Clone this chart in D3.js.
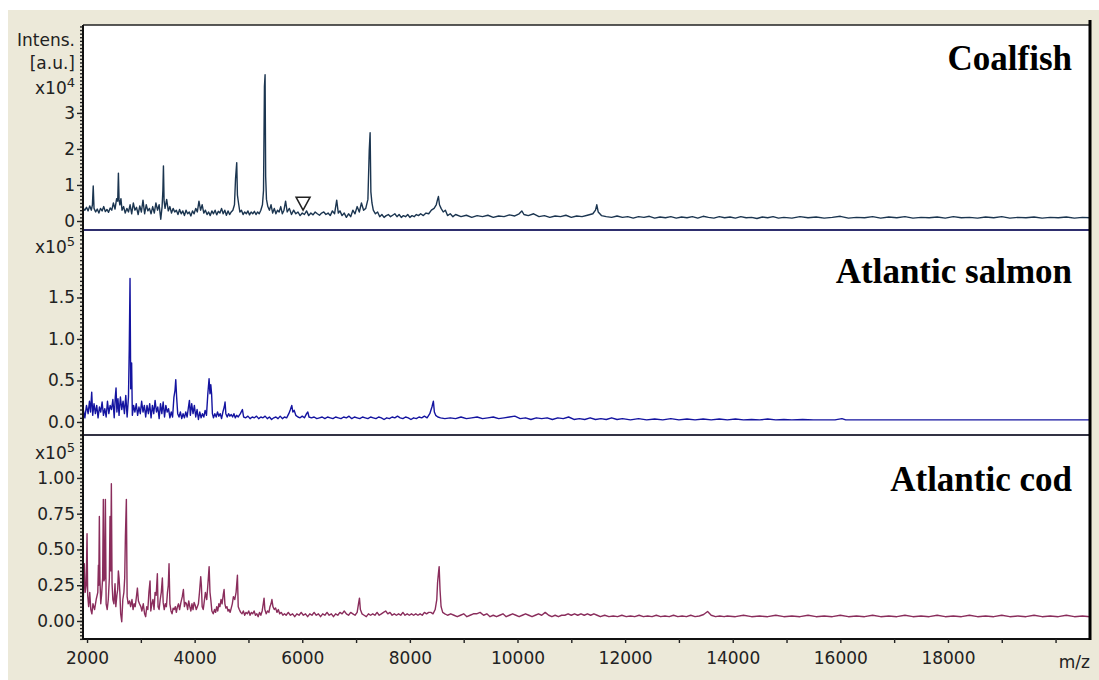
<!DOCTYPE html>
<html>
<head>
<meta charset="utf-8">
<script src="https://cdn.jsdelivr.net/npm/d3@7"></script>
<style>
  body { margin: 0; background: #fff; }
  svg { display: block; font-family: "DejaVu Sans", sans-serif; }
  .axis .tick text { font-size: 17px; fill: #222; font-family: "DejaVu Sans", sans-serif; }
  .axis .tick line { stroke: #222; stroke-width: 1.4; }
  .axis path.domain { display: none; }
  .side-label { font-size: 17px; fill: #222; }
  .species { font-family: "Liberation Serif", "Times New Roman", serif; font-weight: bold; font-size: 35px; fill: #000; }
</style>
</head>
<body>
<svg id="chart"></svg>
<script>
// m/z, intensity (x10^4)
const coalfish = [[1930,0.35],[1960,0.3],[1990,0.38],[2020,0.28],[2050,0.42],[2080,0.3],[2100,0.45],[2115,0.97],[2130,0.35],[2160,0.25],[2190,0.33],[2220,0.22],[2250,0.35],[2280,0.28],[2310,0.4],[2340,0.26],[2370,0.32],[2400,0.24],[2430,0.36],[2460,0.3],[2490,0.5],[2520,0.33],[2550,0.62],[2570,0.55],[2583,1.33],[2595,0.6],[2610,0.45],[2630,0.62],[2650,0.3],[2680,0.4],[2710,0.22],[2740,0.35],[2770,0.25],[2800,0.45],[2830,0.2],[2860,0.5],[2890,0.3],[2920,0.38],[2950,0.18],[2980,0.42],[3010,0.25],[3040,0.58],[3070,0.2],[3100,0.45],[3130,0.28],[3160,0.35],[3190,0.2],[3220,0.4],[3250,0.22],[3280,0.5],[3310,0.3],[3340,0.45],[3370,0.05],[3395,0.4],[3410,0.86],[3420,1.53],[3432,0.55],[3450,0.35],[3480,0.6],[3510,0.28],[3540,0.4],[3570,0.22],[3600,0.35],[3630,0.25],[3660,0.3],[3690,0.18],[3720,0.32],[3750,0.2],[3780,0.28],[3810,0.15],[3840,0.3],[3870,0.2],[3900,0.25],[3930,0.14],[3960,0.28],[3990,0.2],[4020,0.35],[4050,0.25],[4080,0.55],[4110,0.3],[4140,0.45],[4170,0.22],[4200,0.3],[4230,0.18],[4260,0.25],[4290,0.15],[4320,0.28],[4350,0.2],[4380,0.3],[4410,0.17],[4440,0.27],[4470,0.22],[4500,0.35],[4530,0.2],[4560,0.3],[4590,0.16],[4620,0.28],[4650,0.18],[4680,0.25],[4710,0.3],[4740,0.45],[4760,1.18],[4782,1.62],[4795,0.72],[4815,0.5],[4840,0.25],[4870,0.3],[4900,0.18],[4930,0.25],[4960,0.2],[4990,0.28],[5020,0.17],[5050,0.25],[5080,0.2],[5110,0.27],[5140,0.18],[5170,0.25],[5200,0.2],[5230,0.3],[5260,0.45],[5280,0.85],[5297,3.73],[5309,4.06],[5320,1.23],[5335,0.6],[5360,0.4],[5390,0.3],[5420,0.45],[5450,0.22],[5480,0.35],[5510,0.2],[5540,0.3],[5570,0.25],[5600,0.4],[5630,0.2],[5660,0.3],[5690,0.55],[5720,0.25],[5760,0.35],[5800,0.18],[5840,0.3],[5880,0.2],[5920,0.25],[5960,0.15],[6000,0.22],[6040,0.18],[6080,0.28],[6120,0.15],[6160,0.22],[6200,0.17],[6240,0.25],[6280,0.2],[6320,0.16],[6360,0.22],[6400,0.25],[6440,0.18],[6480,0.22],[6520,0.15],[6560,0.28],[6600,0.2],[6640,0.58],[6670,0.22],[6700,0.28],[6740,0.15],[6780,0.22],[6820,0.1],[6860,0.2],[6900,0.12],[6940,0.3],[6980,0.2],[7020,0.4],[7060,0.25],[7100,0.5],[7140,0.3],[7180,0.35],[7220,0.6],[7245,1.97],[7261,2.45],[7275,0.81],[7295,0.5],[7320,0.3],[7360,0.2],[7400,0.25],[7440,0.12],[7480,0.18],[7520,0.1],[7560,0.15],[7600,0.18],[7640,0.12],[7680,0.16],[7720,0.2],[7760,0.12],[7800,0.18],[7840,0.1],[7880,0.15],[7920,0.12],[7960,0.18],[8000,0.1],[8040,0.15],[8080,0.12],[8120,0.18],[8160,0.15],[8200,0.2],[8250,0.15],[8300,0.22],[8350,0.2],[8400,0.3],[8450,0.35],[8490,0.45],[8515,0.6],[8531,0.68],[8550,0.45],[8580,0.35],[8620,0.25],[8660,0.3],[8700,0.15],[8750,0.2],[8800,0.12],[8850,0.18],[8950,0.12],[9050,0.16],[9150,0.1],[9250,0.15],[9350,0.12],[9450,0.16],[9550,0.1],[9650,0.14],[9750,0.12],[9850,0.17],[9950,0.14],[10030,0.2],[10080,0.28],[10120,0.18],[10200,0.15],[10300,0.2],[10400,0.12],[10500,0.15],[10600,0.1],[10700,0.14],[10800,0.12],[10900,0.16],[11000,0.1],[11100,0.14],[11200,0.12],[11300,0.16],[11400,0.2],[11450,0.3],[11474,0.45],[11500,0.25],[11560,0.15],[11650,0.12],[11750,0.1],[11850,0.14],[11950,0.1],[12050,0.12],[12150,0.08],[12250,0.12],[12350,0.1],[12450,0.13],[12550,0.08],[12650,0.11],[12750,0.09],[12850,0.12],[12950,0.08],[13050,0.11],[13150,0.09],[13250,0.12],[13350,0.08],[13450,0.13],[13550,0.1],[13650,0.08],[13750,0.12],[13850,0.09],[13950,0.11],[14050,0.08],[14150,0.12],[14250,0.09],[14350,0.1],[14450,0.07],[14550,0.11],[14650,0.09],[14750,0.12],[14850,0.08],[14950,0.1],[15100,0.08],[15250,0.12],[15400,0.09],[15550,0.11],[15700,0.08],[15850,0.1],[16000,0.13],[16150,0.08],[16300,0.1],[16450,0.09],[16600,0.12],[16750,0.08],[16900,0.11],[17050,0.09],[17200,0.12],[17350,0.08],[17500,0.1],[17650,0.09],[17800,0.11],[17950,0.08],[18100,0.12],[18250,0.09],[18400,0.1],[18550,0.08],[18700,0.11],[18850,0.09],[19000,0.12],[19150,0.08],[19300,0.1],[19450,0.09],[19600,0.11],[19750,0.08],[19900,0.1],[20050,0.09],[20200,0.11],[20350,0.08],[20500,0.1],[20640,0.09]];

// m/z, intensity (x10^5)
const salmon = [[1930,0.15],[1960,0.05],[1990,0.2],[2020,0.1],[2045,0.25],[2065,0.12],[2087,0.36],[2105,0.08],[2130,0.22],[2155,0.1],[2180,0.2],[2205,0.05],[2230,0.18],[2255,0.12],[2280,0.24],[2305,0.08],[2330,0.16],[2355,0.06],[2380,0.25],[2405,0.1],[2430,0.2],[2455,0.15],[2480,0.27],[2505,0.05],[2525,0.3],[2539,0.41],[2555,0.12],[2575,0.28],[2595,0.08],[2620,0.3],[2645,0.15],[2670,0.25],[2695,0.1],[2720,0.32],[2745,0.06],[2770,0.3],[2785,0.89],[2799,1.73],[2812,0.4],[2829,0.71],[2842,0.08],[2865,0.2],[2890,0.12],[2915,0.22],[2940,0.08],[2965,0.18],[2990,0.1],[3015,0.25],[3040,0.12],[3065,0.2],[3090,0.06],[3115,0.2],[3140,0.1],[3165,0.22],[3190,0.05],[3215,0.2],[3240,0.1],[3265,0.26],[3290,0.12],[3315,0.18],[3340,0.04],[3365,0.22],[3390,0.1],[3415,0.24],[3440,0.06],[3465,0.2],[3490,0.12],[3515,0.16],[3540,0.05],[3565,0.12],[3590,0.06],[3615,0.3],[3635,0.38],[3649,0.51],[3665,0.3],[3685,0.1],[3710,0.06],[3735,0.12],[3760,0.04],[3785,0.1],[3810,0.05],[3835,0.12],[3860,0.06],[3885,0.18],[3903,0.26],[3920,0.08],[3945,0.22],[3970,0.1],[3995,0.2],[4020,0.06],[4045,0.15],[4070,0.03],[4095,0.12],[4120,0.05],[4145,0.1],[4170,0.06],[4195,0.14],[4220,0.08],[4245,0.34],[4268,0.52],[4285,0.34],[4300,0.45],[4315,0.34],[4330,0.1],[4350,0.05],[4375,0.1],[4400,0.06],[4425,0.12],[4450,0.07],[4475,0.1],[4500,0.04],[4525,0.12],[4550,0.18],[4565,0.24],[4580,0.1],[4605,0.06],[4630,0.1],[4655,0.07],[4680,0.09],[4705,0.06],[4730,0.1],[4755,0.05],[4780,0.08],[4810,0.06],[4850,0.1],[4888,0.15],[4910,0.06],[4950,0.05],[4990,0.07],[5030,0.04],[5070,0.06],[5110,0.05],[5150,0.07],[5190,0.04],[5230,0.06],[5270,0.05],[5310,0.07],[5350,0.04],[5390,0.06],[5430,0.03],[5470,0.05],[5510,0.06],[5550,0.04],[5590,0.07],[5630,0.04],[5670,0.06],[5710,0.05],[5750,0.1],[5780,0.15],[5805,0.2],[5825,0.12],[5850,0.14],[5880,0.08],[5920,0.06],[5960,0.05],[6000,0.07],[6040,0.05],[6080,0.1],[6103,0.12],[6125,0.06],[6170,0.05],[6220,0.06],[6270,0.04],[6320,0.05],[6370,0.06],[6420,0.04],[6470,0.06],[6520,0.05],[6570,0.04],[6620,0.06],[6670,0.05],[6720,0.04],[6770,0.06],[6820,0.05],[6870,0.07],[6920,0.04],[6970,0.06],[7020,0.05],[7070,0.04],[7120,0.06],[7170,0.05],[7220,0.04],[7270,0.06],[7320,0.05],[7370,0.04],[7420,0.06],[7470,0.05],[7520,0.03],[7570,0.05],[7620,0.04],[7670,0.06],[7720,0.05],[7770,0.07],[7820,0.05],[7870,0.04],[7920,0.06],[7970,0.05],[8020,0.03],[8070,0.05],[8120,0.04],[8170,0.06],[8220,0.05],[8270,0.07],[8320,0.05],[8370,0.1],[8410,0.18],[8437,0.25],[8455,0.12],[8480,0.08],[8520,0.06],[8570,0.05],[8650,0.04],[8750,0.05],[8850,0.04],[8950,0.06],[9050,0.04],[9150,0.05],[9250,0.06],[9350,0.04],[9450,0.05],[9550,0.06],[9650,0.04],[9750,0.05],[9850,0.06],[9950,0.07],[10050,0.04],[10150,0.05],[10250,0.03],[10350,0.05],[10450,0.04],[10550,0.05],[10650,0.03],[10750,0.05],[10850,0.04],[10950,0.06],[11050,0.03],[11150,0.04],[11250,0.03],[11350,0.05],[11450,0.03],[11550,0.04],[11650,0.03],[11750,0.05],[11850,0.03],[11950,0.04],[12100,0.025],[12250,0.04],[12400,0.025],[12550,0.035],[12700,0.025],[12850,0.04],[13000,0.025],[13150,0.035],[13300,0.025],[13450,0.035],[13600,0.025],[13750,0.035],[13900,0.025],[14050,0.035],[14200,0.025],[14350,0.03],[14500,0.025],[14650,0.035],[14800,0.025],[14950,0.03],[15100,0.025],[15300,0.03],[15500,0.025],[15700,0.025],[15900,0.025],[16030,0.04],[16100,0.025],[16400,0.025],[16800,0.025],[17200,0.025],[17600,0.025],[18000,0.025],[18500,0.025],[19000,0.025],[19500,0.025],[20000,0.025],[20640,0.025]];

// m/z, intensity (x10^5)
const cod = [[1930,0.15],[1950,0.4],[1965,0.2],[1985,0.25],[2000,0.61],[2012,0.18],[2030,0.1],[2050,0.2],[2070,0.08],[2090,0.05],[2110,0.12],[2140,0.08],[2170,0.15],[2200,0.2],[2211,0.39],[2218,0.25],[2229,0.73],[2240,0.29],[2255,0.12],[2270,0.18],[2290,0.3],[2303,0.85],[2315,0.28],[2330,0.3],[2341,0.85],[2355,0.12],[2375,0.08],[2395,0.15],[2415,0.3],[2427,0.73],[2440,0.35],[2452,0.96],[2465,0.26],[2480,0.15],[2500,0.12],[2520,0.26],[2535,0.1],[2555,0.18],[2570,0.22],[2582,0.35],[2595,0.3],[2610,0.2],[2625,0.05],[2645,-0.005],[2665,0.15],[2685,0.2],[2700,0.3],[2713,0.59],[2731,0.85],[2745,0.17],[2765,0.12],[2790,0.14],[2810,0.1],[2835,0.15],[2855,0.08],[2875,0.12],[2895,0.1],[2915,0.16],[2936,0.23],[2955,0.14],[2975,0.12],[3000,0.1],[3020,0.07],[3045,0.12],[3070,0.05],[3090,0.03],[3110,0.1],[3130,0.08],[3150,0.2],[3171,0.28],[3185,0.07],[3205,0.12],[3225,0.15],[3245,0.08],[3265,0.2],[3285,0.18],[3307,0.33],[3320,0.1],[3340,0.08],[3360,0.15],[3380,0.2],[3400,0.3],[3415,0.13],[3435,0.08],[3455,0.12],[3475,0.1],[3495,0.2],[3510,0.25],[3524,0.4],[3540,0.12],[3560,0.07],[3580,0.05],[3600,0.09],[3620,0.08],[3640,0.1],[3660,0.06],[3680,0.1],[3700,0.12],[3720,0.08],[3745,0.13],[3770,0.17],[3791,0.22],[3810,0.1],[3830,0.13],[3850,0.12],[3870,0.08],[3890,0.14],[3910,0.1],[3930,0.07],[3950,0.12],[3970,0.08],[3990,0.13],[4010,0.11],[4030,0.08],[4050,0.1],[4070,0.12],[4090,0.2],[4113,0.31],[4125,0.25],[4140,0.1],[4160,0.08],[4180,0.14],[4200,0.2],[4225,0.15],[4245,0.25],[4269,0.38],[4285,0.2],[4300,0.15],[4320,0.07],[4345,0.05],[4370,0.08],[4390,0.06],[4410,0.1],[4430,0.07],[4450,0.12],[4470,0.1],[4490,0.15],[4510,0.12],[4530,0.18],[4547,0.22],[4562,0.12],[4580,0.09],[4600,0.1],[4620,0.07],[4640,0.08],[4660,0.06],[4680,0.09],[4700,0.12],[4720,0.17],[4745,0.15],[4770,0.2],[4795,0.32],[4810,0.1],[4830,0.08],[4855,0.06],[4880,0.05],[4905,0.07],[4930,0.04],[4955,0.06],[4980,0.05],[5005,0.07],[5030,0.04],[5055,0.06],[5080,0.05],[5105,0.07],[5130,0.04],[5155,0.05],[5180,0.03],[5205,0.06],[5230,0.04],[5255,0.07],[5275,0.12],[5290,0.16],[5305,0.08],[5330,0.05],[5355,0.07],[5380,0.06],[5400,0.1],[5420,0.12],[5436,0.15],[5455,0.1],[5480,0.08],[5505,0.09],[5530,0.06],[5555,0.08],[5580,0.05],[5610,0.06],[5640,0.04],[5670,0.05],[5700,0.04],[5740,0.06],[5780,0.04],[5820,0.05],[5860,0.03],[5900,0.05],[5940,0.04],[5980,0.06],[6020,0.04],[6060,0.05],[6100,0.03],[6140,0.05],[6180,0.04],[6220,0.06],[6260,0.04],[6300,0.05],[6340,0.03],[6380,0.05],[6420,0.04],[6460,0.06],[6500,0.04],[6540,0.05],[6580,0.03],[6620,0.05],[6660,0.04],[6700,0.06],[6740,0.05],[6780,0.07],[6820,0.05],[6860,0.04],[6900,0.06],[6940,0.05],[6980,0.04],[7020,0.06],[7045,0.12],[7063,0.16],[7080,0.08],[7110,0.05],[7150,0.04],[7190,0.03],[7230,0.05],[7270,0.04],[7310,0.05],[7350,0.04],[7390,0.06],[7430,0.04],[7470,0.05],[7510,0.06],[7550,0.07],[7590,0.05],[7630,0.06],[7670,0.04],[7710,0.05],[7750,0.04],[7790,0.05],[7830,0.04],[7870,0.06],[7910,0.04],[7950,0.05],[7990,0.04],[8030,0.05],[8070,0.04],[8110,0.05],[8150,0.04],[8190,0.05],[8230,0.04],[8270,0.06],[8310,0.05],[8350,0.06],[8390,0.06],[8430,0.05],[8470,0.08],[8500,0.15],[8515,0.27],[8530,0.33],[8544,0.38],[8560,0.22],[8580,0.1],[8610,0.06],[8650,0.05],[8700,0.04],[8760,0.05],[8820,0.04],[8880,0.03],[8940,0.04],[9000,0.05],[9060,0.03],[9120,0.04],[9180,0.05],[9240,0.05],[9305,0.06],[9370,0.04],[9430,0.05],[9490,0.03],[9550,0.04],[9610,0.03],[9670,0.04],[9730,0.05],[9790,0.03],[9850,0.04],[9910,0.05],[9970,0.04],[10030,0.03],[10090,0.04],[10150,0.05],[10210,0.04],[10270,0.03],[10330,0.04],[10390,0.05],[10450,0.04],[10515,0.06],[10580,0.04],[10640,0.03],[10700,0.04],[10760,0.03],[10820,0.04],[10880,0.04],[10940,0.05],[11000,0.04],[11060,0.05],[11120,0.04],[11180,0.05],[11240,0.04],[11300,0.05],[11360,0.04],[11420,0.05],[11480,0.04],[11540,0.03],[11620,0.04],[11700,0.03],[11780,0.035],[11860,0.03],[11940,0.04],[12020,0.03],[12100,0.035],[12180,0.03],[12260,0.04],[12340,0.03],[12420,0.035],[12500,0.03],[12580,0.04],[12660,0.03],[12740,0.035],[12820,0.03],[12900,0.04],[12980,0.03],[13060,0.035],[13140,0.03],[13220,0.04],[13300,0.03],[13380,0.035],[13460,0.045],[13533,0.066],[13600,0.04],[13680,0.03],[13760,0.035],[13840,0.03],[13900,0.035],[14050,0.03],[14200,0.04],[14350,0.03],[14500,0.035],[14650,0.03],[14800,0.04],[14950,0.03],[15100,0.035],[15250,0.03],[15400,0.04],[15550,0.03],[15700,0.035],[15850,0.03],[16000,0.04],[16150,0.03],[16300,0.035],[16450,0.03],[16600,0.04],[16750,0.03],[16900,0.035],[17050,0.03],[17200,0.04],[17350,0.03],[17500,0.035],[17650,0.03],[17800,0.04],[17950,0.03],[18100,0.035],[18250,0.03],[18400,0.04],[18550,0.03],[18700,0.035],[18850,0.03],[19000,0.04],[19150,0.03],[19300,0.035],[19450,0.03],[19600,0.04],[19750,0.03],[19900,0.035],[20050,0.03],[20200,0.04],[20350,0.03],[20500,0.035],[20640,0.03]];

const speciesNames = ["Coalfish", "Atlantic salmon", "Atlantic cod"];
const coalfishTicks = [0, 1, 2, 3];
const salmonTicks = [0, 0.5, 1.0, 1.5];
const codTicks = [0, 0.25, 0.5, 0.75, 1.0];
const mzTicks = [2000, 3000, 4000, 5000, 6000, 7000, 8000, 9000, 10000, 11000, 12000, 13000, 14000, 15000, 16000, 17000, 18000, 19000, 20000];
const mzLabels = [2000, 4000, 6000, 8000, 10000, 12000, 14000, 16000, 18000];
const markerMz = 6015; // the little triangle in the coalfish trace

const W = 1099, H = 680;
const plot = {left: 83, right: 1090, top: 25, bottom: 639};

class SpectrumPanel {

  constructor(_config, _data) {
    this.config = _config;
    this.data = _data;
    this.initVis();
  }

  initVis() {
    let vis = this;
    const c = vis.config;

    vis.yScale = d3.scaleLinear()
        .domain(c.yDomain)
        .range([c.bottom, c.top]);

    vis.g = c.parent.append('g');

    // dense ruler-style minor ticks, then the labelled ones
    vis.g.append('g')
        .attr('class', 'axis')
        .attr('transform', `translate(${plot.left},0)`)
        .call(d3.axisLeft(vis.yScale).tickValues(c.minorTicks).tickSize(3).tickFormat(''));

    vis.g.append('g')
        .attr('class', 'axis')
        .attr('transform', `translate(${plot.left},0)`)
        .call(d3.axisLeft(vis.yScale).tickValues(c.ticks).tickSize(6).tickPadding(2).tickFormat(c.format));

    vis.renderVis();
  }

  renderVis() {
    let vis = this;
    const c = vis.config;

    vis.g.append('path')
        .datum(vis.data)
        .attr('fill', 'none')
        .attr('stroke', c.color)
        .attr('stroke-width', 1.4)
        .attr('stroke-linejoin', 'round')
        .attr('d', d3.line().x(d => xScale(d[0])).y(d => vis.yScale(d[1])));

    vis.g.append('text')
        .attr('class', 'species')
        .attr('x', 1072)
        .attr('y', c.labelY)
        .attr('text-anchor', 'end')
        .text(c.name);

    // multiplier label above the ticks
    const mult = vis.g.append('text')
        .attr('class', 'side-label')
        .attr('x', 75)
        .attr('y', c.multY)
        .attr('text-anchor', 'end');
    mult.append('tspan').text('x10');
    mult.append('tspan').attr('dy', -7).attr('font-size', 13).text(c.exponent);
  }
}

const svg = d3.select('#chart')
    .attr('width', W)
    .attr('height', H);

// window-style beige frame
svg.append('rect').attr('x', 8).attr('y', 10).attr('width', W - 8).attr('height', H - 10).attr('fill', '#ece9d9');
svg.append('rect')
    .attr('x', plot.left).attr('y', plot.top)
    .attr('width', plot.right - plot.left).attr('height', plot.bottom - plot.top)
    .attr('fill', '#fff');

const xScale = d3.scaleLinear()
    .domain([1925, 20640])
    .range([plot.left, plot.right]);

const chart = svg.append('g');

const panels = [
  new SpectrumPanel({parent: chart, top: 25, bottom: 230, yDomain: [-0.25, 5.44], ticks: coalfishTicks,
    minorTicks: d3.range(-2, 55).map(i => i / 10), format: d3.format('d'), color: '#1b3550',
    name: speciesNames[0], labelY: 70, multY: 94, exponent: '4'}, coalfish),
  new SpectrumPanel({parent: chart, top: 230, bottom: 435, yDomain: [-0.157, 2.313], ticks: salmonTicks,
    minorTicks: d3.range(-3, 47).map(i => i / 20), format: d3.format('.1f'), color: '#1414a0',
    name: speciesNames[1], labelY: 283, multY: 253, exponent: '5'}, salmon),
  new SpectrumPanel({parent: chart, top: 435, bottom: 639, yDomain: [-0.126, 1.30], ticks: codTicks,
    minorTicks: d3.range(-5, 53).map(i => i / 40), format: d3.format('.2f'), color: '#8a2d5c',
    name: speciesNames[2], labelY: 491, multY: 459, exponent: '5'}, cod)
];

// units label of the first panel
svg.append('text').attr('class', 'side-label').attr('x', 75).attr('y', 46).attr('text-anchor', 'end').text('Intens.');
svg.append('text').attr('class', 'side-label').attr('x', 75).attr('y', 69).attr('text-anchor', 'end').text('[a.u.]');

// peak marker (hollow down-triangle)
const mx = xScale(markerMz), my = panels[0].yScale(0.3);
svg.append('path')
    .attr('d', `M${mx - 7},${my - 13}L${mx + 7},${my - 13}L${mx},${my}Z`)
    .attr('fill', '#fff')
    .attr('stroke', '#222')
    .attr('stroke-width', 1.5);

// panel separators and frame
svg.append('line').attr('x1', plot.left).attr('x2', plot.right).attr('y1', 230).attr('y2', 230).attr('stroke', '#2e2e6e').attr('stroke-width', 2);
svg.append('line').attr('x1', plot.left).attr('x2', plot.right).attr('y1', 435).attr('y2', 435).attr('stroke', '#333344').attr('stroke-width', 2);
svg.append('line').attr('x1', plot.left).attr('x2', plot.right).attr('y1', plot.top).attr('y2', plot.top).attr('stroke', '#222').attr('stroke-width', 1.5);
svg.append('line').attr('x1', plot.left).attr('x2', plot.right).attr('y1', plot.bottom).attr('y2', plot.bottom).attr('stroke', '#111').attr('stroke-width', 2);
svg.append('line').attr('x1', plot.left).attr('x2', plot.left).attr('y1', plot.top).attr('y2', plot.bottom).attr('stroke', '#111').attr('stroke-width', 2);
svg.append('line').attr('x1', plot.right).attr('x2', plot.right).attr('y1', 20).attr('y2', plot.bottom + 1).attr('stroke', '#000').attr('stroke-width', 3);

// m/z axis
svg.append('g')
    .attr('class', 'axis')
    .attr('transform', `translate(0,${plot.bottom})`)
    .call(d3.axisBottom(xScale).tickValues(mzTicks).tickSize(4).tickPadding(9)
      .tickFormat(d => mzLabels.includes(d) ? d : ''));

svg.append('text').attr('class', 'side-label').attr('x', 1090).attr('y', 668).attr('text-anchor', 'end').text('m/z');
</script>
</body>
</html>
